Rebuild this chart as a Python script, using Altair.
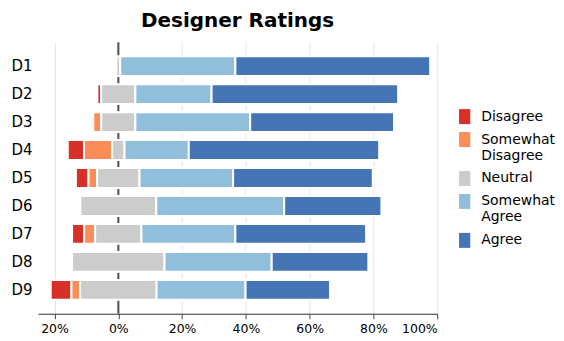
import altair as alt
import pandas as pd

designers = ["D1", "D2", "D3", "D4", "D5", "D6", "D7", "D8", "D9"]
categories = ["Disagree", "Somewhat Disagree", "Neutral", "Somewhat Agree", "Agree"]
colors = ["#d73027", "#fc8d59", "#cccccc", "#91bfdb", "#4575b4"]

disagree = [0.0, 1.2, 0.0, 5.1, 3.95, 0.0, 3.8, 0.0, 6.5]
somewhat_disagree = [0.0, 0.0, 2.5, 8.8, 2.7, 0.0, 3.45, 0.0, 2.7]
neutral = [1.2, 10.7, 10.7, 3.9, 13.3, 23.8, 14.5, 29.0, 24.0]
somewhat_agree = [36.1, 23.9, 36.0, 20.15, 29.35, 40.1, 29.45, 33.6, 27.9]
agree = [61.1, 58.5, 45.1, 59.7, 43.8, 30.5, 41.0, 30.3, 26.5]

tick_values = [-20, 0, 20, 40, 60, 80, 100]

series = [disagree, somewhat_disagree, neutral, somewhat_agree, agree]
rows = []
for i, d in enumerate(designers):
    start = -(disagree[i] + somewhat_disagree[i] + neutral[i] / 2.0)
    for cat, vals in zip(categories, series):
        v = vals[i]
        if v > 0:
            rows.append({"designer": d, "category": cat, "start": start, "end": start + v})
        start += v
df = pd.DataFrame(rows)

FONT = "DejaVu Sans"

xscale = alt.Scale(domain=[-25.2, 100], nice=False, zero=False)
yscale = alt.Scale(domain=designers, paddingInner=0.29, paddingOuter=0.5)

bars = alt.Chart(df).mark_bar(stroke="white", strokeWidth=2).encode(
    x=alt.X("start:Q", scale=xscale,
            axis=alt.Axis(values=tick_values, labelExpr="abs(datum.value) + '%'",
                          title=None, grid=True, gridColor="#e4e4e4",
                          domainColor="#333333", tickColor="#444444", tickSize=5,
                          labelFontSize=12.5, labelColor="#000000", labelPadding=4,
                          labelFont=FONT)),
    x2="end:Q",
    y=alt.Y("designer:N", scale=yscale, sort=designers,
            axis=alt.Axis(title=None, domain=False, ticks=False, labelFontSize=15,
                          labelColor="#000000", labelPadding=6, labelFont=FONT)),
    color=alt.Color("category:N",
                    scale=alt.Scale(domain=categories, range=colors),
                    legend=alt.Legend(title=None, orient="none", legendX=420, legendY=67,
                                      labelExpr="split(datum.label, ' ')",
                                      labelFontSize=14, labelFont=FONT, labelColor="#000000",
                                      symbolType="M-0.75,-1H0.75V1H-0.75Z",
                                      symbolSize=225, symbolStrokeWidth=0,
                                      symbolOpacity=1,
                                      labelOffset=9, rowPadding=8)),
)

zero = pd.DataFrame({"x": [0]})
zero_rule = alt.Chart(zero).mark_rule(color="#555555", strokeWidth=2).encode(
    x=alt.X("x:Q", scale=xscale)
)

chart = alt.layer(zero_rule, bars).properties(
    width=400, height=272,
    title=alt.TitleParams("Designer Ratings", fontSize=20, font=FONT, fontWeight="bold",
                          anchor="middle", frame="group", offset=10, color="#000000"),
    padding={"left": 2, "top": 3, "right": 0, "bottom": 2},
).configure_view(stroke=None)

chart.save("out.html", embed_options={"renderer": "svg", "actions": False})
